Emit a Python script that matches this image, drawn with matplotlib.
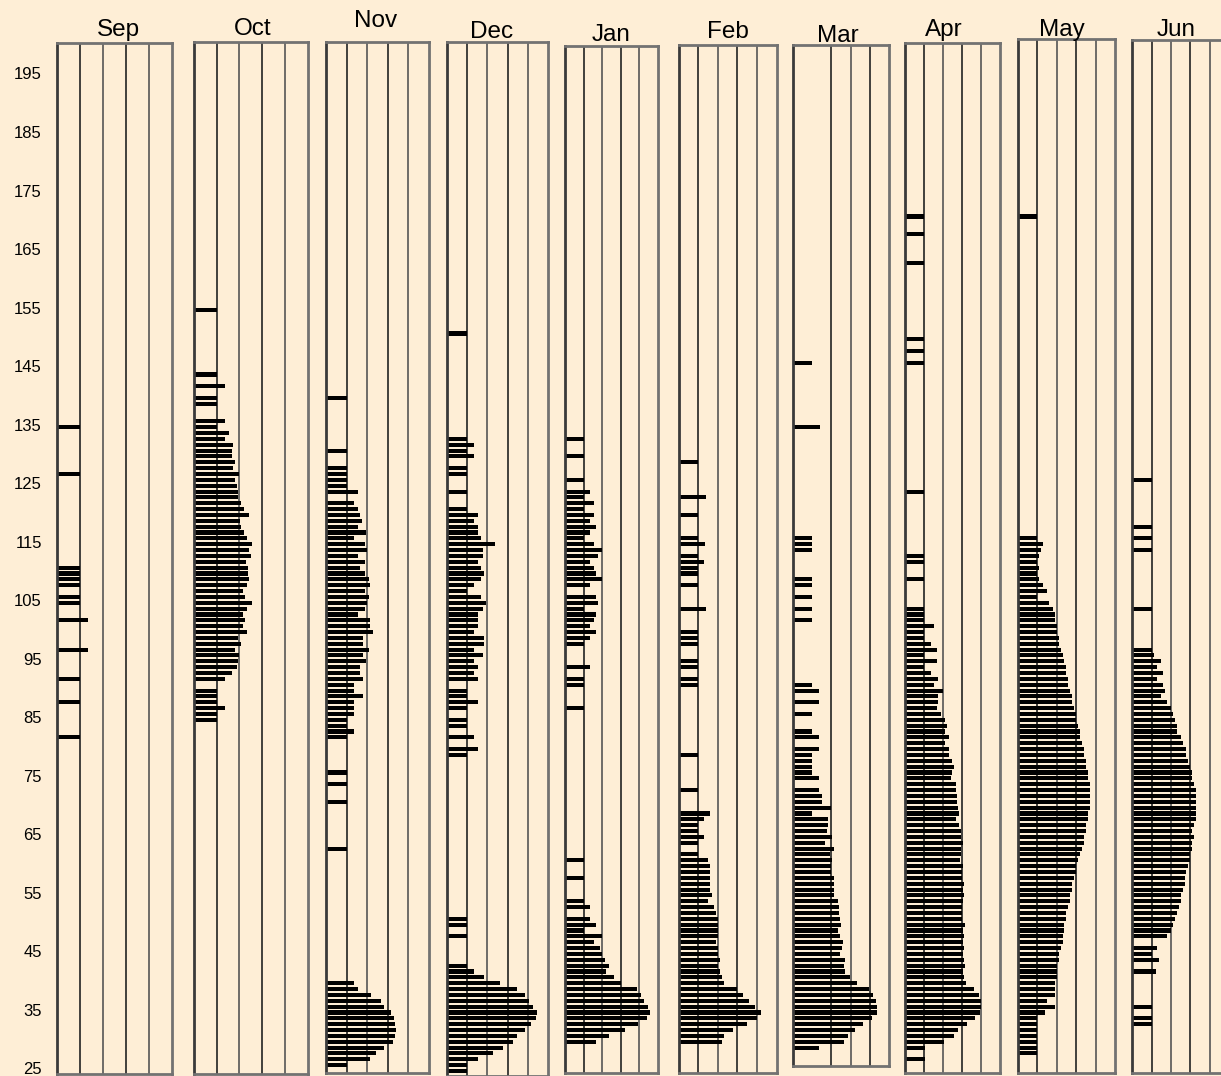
import matplotlib
matplotlib.use("Agg")
import matplotlib.pyplot as plt
import matplotlib.transforms as mtransforms

plt.rcParams['font.family'] = ['Liberation Sans', 'DejaVu Sans']

# Data : one bar per integer value, bar length in grid-column units
months = ['Sep', 'Oct', 'Nov', 'Dec', 'Jan', 'Feb', 'Mar', 'Apr', 'May', 'Jun']
y_ticks = list(range(25, 196, 10))

sep_y = [135, 127, 111, 110, 109, 108, 106, 105, 102, 97, 92, 88, 82]
sep_len = [1, 1, 1, 1, 1, 1, 1, 1, 1.35, 1.35, 1, 1, 1]

oct_y = [155, 144, 142, 140, 139] + list(range(136, 91, -1)) + list(range(90, 84, -1))
oct_len = [1, 1, 1.35, 1, 1,
           1.37, 1.0, 1.53, 1.37, 1.74, 1.66, 1.66, 1.82, 1.74, 2.0, 1.82, 1.88, 1.94, 1.94,
           2.06, 2.22, 2.41, 2.03, 2.06, 2.22, 2.34, 2.57, 2.41, 2.5, 2.29, 2.38, 2.38, 2.41,
           2.35, 2.15, 2.25, 2.56, 2.32, 2.15, 2.25, 2.15, 2.34, 1.94, 2.06, 1.82, 2.0, 1.94,
           1.88, 1.66, 1.37,
           1, 1, 1, 1.37, 1, 1]

nov_y = [140, 131, 128, 127, 126, 125, 124] + list(range(122, 81, -1)) + [76, 74, 71, 63] + list(range(40, 25, -1))
nov_len = [1, 1, 1, 1, 1, 1, 1.53,
           1.37, 1.53, 1.65, 1.74, 1.53, 1.95, 1.37, 1.89, 2.0, 1.53, 1.89, 1.65, 1.89, 2.08,
           2.15, 1.89, 2.08, 2.0, 1.89, 1.53, 2.15, 2.15, 2.26, 1.82, 1.82, 2.08, 1.82, 1.95,
           1.65, 1.65, 1.82, 1.37, 1.37, 1.82, 1.37, 1.37, 1.37, 1, 1, 1.37, 1,
           1, 1, 1, 1,
           1.37, 1.53, 2.18, 2.65, 2.82, 3.16, 3.29, 3.34, 3.39, 3.34, 3.26, 2.82, 2.45, 2.15, 1]

dec_y = ([151, 133, 132, 131, 130, 128, 127, 124] + list(range(121, 91, -1))
         + [90, 89, 88, 87, 85, 84, 82, 80, 79, 51, 50, 48] + list(range(43, 24, -1)))
dec_len = [1, 1, 1.34, 1, 1.34, 1, 1, 1,
           1, 1.54, 1.34, 1.54, 1.54, 1.66, 2.38, 1.77, 1.77, 1.54, 1.66, 1.82, 1.66, 1.34,
           1, 1.66, 1.95, 1.77, 1.54, 1.54, 1.54, 1.34, 1.82, 1.82, 1.34, 1.77, 1.34, 1.54,
           1.34, 1.54,
           1, 1, 1.54, 1, 1, 1, 1.34, 1.54, 1, 1, 1, 1,
           1, 1.34, 1.82, 2.64, 3.48, 3.85, 4.07, 4.28, 4.44, 4.41, 4.18, 3.85, 3.49, 3.25,
           2.79, 2.3, 1.54, 1, 1]

jan_y = ([133, 130, 126] + list(range(124, 107, -1)) + list(range(106, 97, -1))
         + [94, 92, 91, 87, 61, 58, 54, 53] + list(range(51, 29, -1)))
jan_len = [1, 1, 1,
           1.36, 1, 1.54, 1, 1.54, 1.36, 1.66, 1.36, 1, 1.54, 1.98, 1.77, 1.36, 1.54, 1.66,
           1.98, 1.36,
           1.66, 1.77, 1, 1.66, 1.54, 1.36, 1.66, 1.36, 1,
           1.36, 1, 1, 1, 1, 1, 1, 1.36,
           1.36, 1.66, 1, 1.98, 1.54, 1.89, 1.98, 2.13, 2.38, 2.21, 2.66, 3.0, 3.86, 4.09,
           4.27, 4.48, 4.57, 4.41, 3.93, 3.25, 2.38, 1.66]

feb_y = ([129, 123, 120, 116, 115, 113, 112, 111, 110, 108, 104, 100, 99, 98, 95, 94, 92, 91,
          79, 73, 69, 68, 67, 66, 65, 64] + list(range(62, 29, -1)))
feb_len = [1, 1.4, 1, 1, 1.35, 1, 1.3, 1, 1, 1, 1.4, 1, 1, 1, 1, 1, 1, 1,
           1, 1, 1.6, 1.3, 1, 1, 1.3, 1,
           1, 1.5, 1.6, 1.6, 1.6, 1.6, 1.6, 1.7, 1.5, 1.8, 1.9, 2.0, 2.0, 2.0, 2.0, 1.9, 2.0,
           2.0, 2.1, 2.0, 2.1, 2.2, 2.3, 3.0, 3.3, 3.6, 3.9, 4.2, 4.0, 3.5, 2.8, 2.3, 2.2]

mar_y = ([146, 135, 116, 115, 114, 109, 108, 106, 104, 102, 91, 90, 88, 86, 83, 82]
         + list(range(80, 74, -1)) + list(range(73, 28, -1)))
mar_len = [1, 1.4, 1, 1, 1, 1, 1, 1, 1, 1, 1, 1.37, 1.37, 1, 1, 1.37,
           1.37, 1, 1, 1, 1, 1.37,
           1.37, 1.53, 1.53, 1.98, 1, 1.84, 1.84, 1.79, 2.02, 1.67, 2.12, 1.91, 2.02, 1.98,
           1.98, 2.16, 2.16, 2.16, 2.16, 2.32, 2.37, 2.42, 2.46, 2.49, 2.35, 2.46, 2.58, 2.53,
           2.47, 2.72, 2.68, 2.72, 2.98, 3.32, 3.95, 4.16, 4.32, 4.4, 4.4, 4.09, 3.65, 3.21,
           2.88, 2.68, 1.37]

apr_y = [171, 168, 163, 150, 148, 146, 124, 113, 112, 109] + list(range(104, 28, -1)) + [27]
apr_len = [1, 1, 1, 1, 1, 1, 1, 1, 1, 1,
           1, 1, 1, 1.5, 1, 1, 1.33, 1.65, 1, 1.65, 1, 1.33, 1.74, 1.5, 1.97, 1.74, 1.74,
           1.65, 1.86, 2.07, 2.22, 2.11, 2.32, 2.11, 2.32, 2.29, 2.45, 2.55, 2.48, 2.43,
           2.7, 2.66, 2.75, 2.71, 2.77, 2.85, 2.7, 2.85, 2.93, 2.94, 3.07, 2.96, 2.96, 2.87,
           3.03, 2.98, 2.98, 3.09, 3.05, 3.09, 3.05, 3.01, 3.01, 3.01, 3.14, 3.03, 3.1, 3.03,
           3.1, 3.07, 3.1, 3.14, 3.07, 3.1, 3.21, 3.65, 3.88, 3.97, 3.99, 3.92, 3.69, 3.26,
           2.8, 2.55, 2.04, 1.03,
           1.03]

may_y = [171] + list(range(116, 27, -1))
may_len = [1,
           1, 1.3, 1.2, 1.1, 1.0, 1.1, 1.0, 1.1, 1.3, 1.5, 1.0, 1.6, 1.8, 1.9, 1.9, 2.0, 2.0,
           2.1, 2.1, 2.2, 2.3, 2.4, 2.5, 2.5, 2.6, 2.6, 2.7, 2.8, 2.8, 2.9, 3.0, 3.0, 3.1,
           3.2, 3.2, 3.3, 3.4, 3.4, 3.5, 3.5, 3.6, 3.6, 3.7, 3.7, 3.7, 3.7, 3.7, 3.6, 3.6,
           3.5, 3.5, 3.4, 3.4, 3.3, 3.2, 3.1, 3.0, 3.0, 2.9, 2.8, 2.8, 2.7, 2.7, 2.6, 2.5,
           2.5, 2.4, 2.4, 2.3, 2.3, 2.2, 2.1, 2.1, 2.0, 2.0, 2.0, 1.9, 1.9, 1.9, 1.5, 1.9,
           1.4, 1.0, 1.0, 1.0, 1.0, 1.0, 1.0, 1.0]

jun_y = [126, 118, 116, 114, 104] + list(range(97, 47, -1)) + [46, 45, 44, 42, 36, 34, 33]
jun_len = [1, 1, 1, 1, 1,
           1, 1.1, 1.5, 1.3, 1.6, 1.3, 1.6, 1.7, 1.5, 1.8, 2.0, 2.1, 2.2, 2.3, 2.3, 2.5, 2.6,
           2.8, 2.8, 2.9, 3.0, 3.1, 3.1, 3.2, 3.3, 3.3, 3.3, 3.3, 3.3, 3.3, 3.2, 3.1, 3.2,
           3.1, 3.1, 3.0, 3.0, 2.9, 2.8, 2.7, 2.7, 2.6, 2.5, 2.5, 2.4, 2.3, 2.2, 2.1, 2.0,
           1.8,
           1.3, 1.0, 1.4, 1.2, 1.0, 1.0, 1.0]

all_y = [sep_y, oct_y, nov_y, dec_y, jan_y, feb_y, mar_y, apr_y, may_y, jun_y]
all_len = [sep_len, oct_len, nov_len, dec_len, jan_len, feb_len, mar_len, apr_len, may_len, jun_len]

# Layout (pixels) : left, right, top, bottom of each frame + title centre x / baseline y
W, H = 1221, 1076
Y0_PX, PX_PER_UNIT = 1071, 5.853
frames = [(56.5, 172, 43, 1074), (194, 307.5, 41.5, 1074), (326, 429, 42, 1073),
          (447, 548, 42, 1076), (565, 658, 46, 1073), (678.6, 776.6, 45.4, 1073),
          (793, 889, 44.7, 1066), (905.4, 1000, 42.6, 1073), (1017.8, 1115, 39.4, 1073),
          (1132.3, 1229, 39.7, 1073)]
titles = [(118, 36), (253, 35), (376, 27), (492, 38.5), (611, 41), (728, 38.5),
          (838, 42), (944, 36), (1062, 36), (1176, 36.5)]

bg = '#feeed6'
fig = plt.figure(figsize=(W / 100, H / 100), dpi=100, facecolor=bg)

for i, m in enumerate(months):
    l, r, t, b = frames[i]
    ax = fig.add_axes([l / W, 1 - b / H, (r - l) / W, (b - t) / H])
    ax.set_facecolor(bg)
    ax.set_xlim(0, 5)
    ax.set_ylim(25 + (Y0_PX - b) / PX_PER_UNIT, 25 + (Y0_PX - t) / PX_PER_UNIT)
    # grid lines (Mar has no first line)
    grid = [2, 3, 4] if m == 'Mar' else [1, 2, 3, 4]
    for k, g in enumerate(grid):
        ax.axvline(g, color='#222222' if k % 2 == 0 else '#555555', lw=1.2, zorder=1)
    ax.barh(all_y[i], all_len[i], height=0.7, left=0, color='black', zorder=2)
    for side, sp in ax.spines.items():
        sp.set_linewidth(2)
        sp.set_color('#727272')
    ax.spines['left'].set_color('#3a3a3a')
    ax.set_xticks([])
    if i == 0:
        ax.set_yticks(y_ticks)
        ax.tick_params(axis='y', length=0, pad=10.5, labelsize=12)
        shift = mtransforms.ScaledTranslation(0, 2.5 / 100, fig.dpi_scale_trans)
        for lab in ax.get_yticklabels():
            lab.set_transform(lab.get_transform() + shift)
    else:
        ax.set_yticks([])
    fig.text(titles[i][0] / W, 1 - titles[i][1] / H, m, ha='center', va='baseline',
             fontsize=17.5, color='black')

fig.savefig('out.png', dpi=100, facecolor=bg)
